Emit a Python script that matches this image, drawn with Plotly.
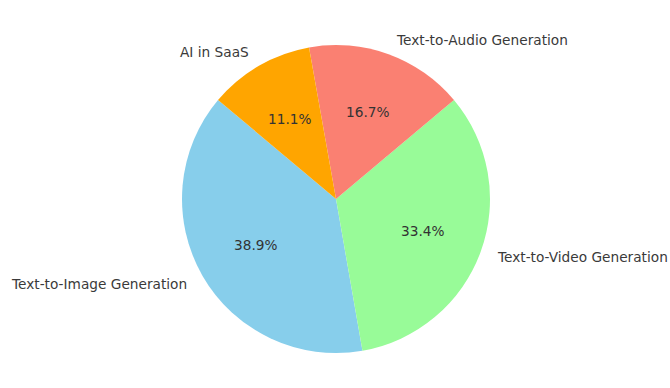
import math
import plotly.graph_objects as go

categories = ["Text-to-Image Generation", "Text-to-Video Generation",
              "Text-to-Audio Generation", "AI in SaaS"]
shares = [38.9, 33.4, 16.7, 11.1]
colors = ["#87CEEB", "#98FB98", "#FA8072", "#FFA500"]

W, H = 670, 388
# pie geometry in figure pixels (center from left / from bottom, radius)
CX, CY, R = 336, 189, 154
START_ANGLE = 140          # degrees, counterclockwise from 3 o'clock
PCT_DIST, LABEL_DIST = 0.6, 1.1
font_family = "DejaVu Sans"
font_size = 13.7

total = sum(shares)
first_deg = shares[0] / total * 360
rot = -(START_ANGLE - 90) - first_deg

domain = dict(x=[(CX - R) / W, (CX + R) / W], y=[(CY - R) / H, (CY + R) / H])

fig = go.Figure()
fig.add_trace(go.Pie(
    labels=categories, values=shares, sort=False,
    direction="counterclockwise", rotation=rot,
    marker=dict(colors=colors, line=dict(width=0)),
    textinfo="none", showlegend=False, hoverinfo="skip", domain=domain,
))

annotations = []
theta = START_ANGLE
for cat, val in zip(categories, shares):
    span = val / total * 360
    mid = math.radians(theta + span / 2)
    theta += span
    c, s = math.cos(mid), math.sin(mid)
    # percentage
    annotations.append(dict(
        x=(CX + PCT_DIST * R * c) / W, y=(CY + PCT_DIST * R * s) / H,
        xref="paper", yref="paper", text=f"{val:.1f}%", showarrow=False,
        xanchor="center", yanchor="middle",
        font=dict(family=font_family, size=font_size, color="#333333"),
    ))
    # category label
    annotations.append(dict(
        x=(CX + LABEL_DIST * R * c) / W, y=(CY + LABEL_DIST * R * s) / H,
        xref="paper", yref="paper", text=cat, showarrow=False,
        xanchor="left" if c > 0 else "right", yanchor="middle",
        font=dict(family=font_family, size=font_size, color="#3a3a3a"),
    ))

fig.update_layout(
    width=W, height=H,
    margin=dict(l=0, r=0, t=0, b=0),
    paper_bgcolor="white", plot_bgcolor="white",
    font=dict(family=font_family),
    annotations=annotations,
)
fig.write_html(
    "out.html",
    config={"displayModeBar": False},
    post_script="document.body.style.margin='0';document.body.style.overflow='hidden';",
)
